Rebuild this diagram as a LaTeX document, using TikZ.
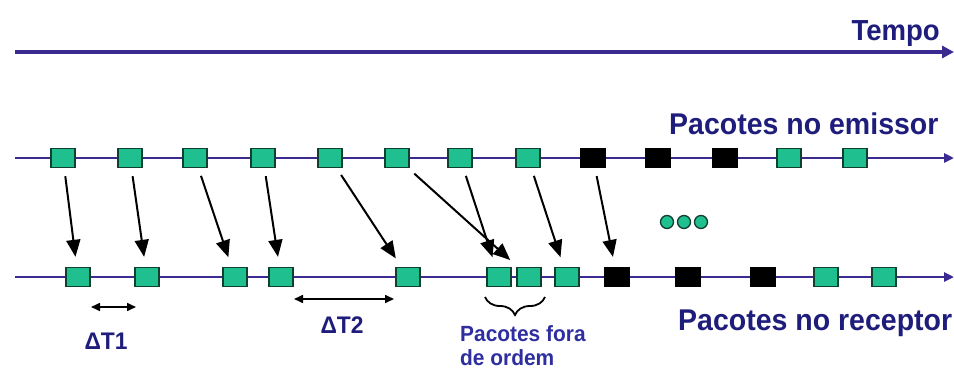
\documentclass[tikz,border=0pt]{standalone}
\usepackage{fontspec}
\setmainfont{Liberation Sans}
\newfontfamily\lblfont[FakeStretch=0.95]{Liberation Sans}
\usetikzlibrary{arrows.meta,decorations.pathreplacing}
\definecolor{nav}{HTML}{1F1D7C}
\definecolor{ln}{HTML}{3B2A8F}
\definecolor{grn}{HTML}{1FBF8F}
\definecolor{gedge}{HTML}{10402E}
\definecolor{lb}{HTML}{2E2EA0}

\begin{document}
\begin{tikzpicture}[x=1pt,y=-1pt,
   pk/.style={draw=gedge,fill=grn,line width=1.5pt,minimum width=24pt,
              minimum height=19pt,inner sep=0pt},
   pkb/.style={pk,draw=black,fill=black},
   lnk/.style={line width=2pt,-{Triangle[length=17pt,width=14pt]},
               shorten <=8pt,shorten >=10pt},
   tl/.style={draw=ln,line width=2.6pt,-{Triangle[length=10pt,width=9pt]}},
   dt/.style={line width=1.6pt,{Triangle[length=9pt,width=8pt]}-{Triangle[length=9pt,width=8pt]}},
   dot/.style={circle,draw=gedge,fill=grn,line width=1.3pt,minimum size=13pt,inner sep=0pt},
   lbl/.style={font=\lblfont\bfseries\fontsize{30}{32}\selectfont,text=nav,inner sep=0pt}]
  \useasboundingbox (0,0) rectangle (954,372);

  % time and the two packet lines
  \coordinate (t0) at (15,52);   \coordinate (t1) at (954,52);
  \coordinate (em0) at (15,158); \coordinate (em1) at (954,158);
  \coordinate (rc0) at (15,277); \coordinate (rc1) at (954,277);
  \draw[draw=ln,line width=3.8pt,-{Triangle[length=12pt,width=12pt]}] (t0)--(t1);
  \draw[tl] (em0)--(em1);
  \draw[tl] (rc0)--(rc1);
  \node[lbl,font=\lblfont\bfseries\fontsize{29}{31}\selectfont,anchor=base east] (tempo) at (940,40) {Tempo};
  \node[lbl,anchor=base west] (emis) at (669,134) {Pacotes no emissor};
  \node[lbl,anchor=base west] (recp) at (678,330) {Pacotes no receptor};

  \node[pk] (e1) at (63,158) {};
  \node[pk] (e2) at (130,158) {};
  \node[pk] (e3) at (195,158) {};
  \node[pk] (e4) at (263,158) {};
  \node[pk] (e5) at (330,158) {};
  \node[pk] (e6) at (397,158) {};
  \node[pk] (e7) at (460,158) {};
  \node[pk] (e8) at (528,158) {};
  \node[pkb] (e9) at (593,158) {};
  \node[pkb] (e10) at (658,158) {};
  \node[pkb] (e11) at (725,158) {};
  \node[pk] (e12) at (789,158) {};
  \node[pk] (e13) at (855,158) {};

  \node[pk] (r1) at (78,277) {};
  \node[pk] (r2) at (147,277) {};
  \node[pk] (r3) at (235,277) {};
  \node[pk] (r4) at (281,277) {};
  \node[pk] (r5) at (408,277) {};
  \node[pk] (r6) at (499,277) {};
  \node[pk] (r7) at (529,277) {};
  \node[pk] (r8) at (567,277) {};
  \node[pkb] (r9) at (617,277) {};
  \node[pkb] (r10) at (688,277) {};
  \node[pkb] (r11) at (763,277) {};
  \node[pk] (r12) at (826,277) {};
  \node[pk] (r13) at (884,277) {};

  \draw[lnk] (e1)--(r1);
  \draw[lnk] (e2)--(r2);
  \draw[lnk] (e3)--(r3);
  \draw[lnk] (e4)--(r4);
  \draw[lnk] (e5)--(r5);
  \draw[lnk] (e6)--(r7);
  \draw[lnk] (e7)--(r6);
  \draw[lnk] (e8)--(r8);
  \draw[lnk] (e9)--(r9);

  \node[dot] (d1) at (667,222) {};
  \node[dot] (d2) at (684,222) {};
  \node[dot] (d3) at (701,222) {};

  % intervals
  \coordinate (a1) at (91,307);  \coordinate (a2) at (136,307);
  \coordinate (b1) at (294,299); \coordinate (b2) at (394,299);
  \draw[dt] (a1)--(a2);
  \draw[dt] (b1)--(b2);
  \node[lbl,font=\lblfont\bfseries\fontsize{24}{26}\selectfont] (dt1) at (106,341) {ΔT1};
  \node[lbl,font=\lblfont\bfseries\fontsize{24}{26}\selectfont] (dt2) at (342,325) {ΔT2};

  % out of order pair
  \coordinate (c1) at (485,297); \coordinate (c2) at (545,297);
  \draw[line width=1.8pt,decorate,decoration={brace,mirror,amplitude=18pt}] (c1)--(c2);
  \node[lbl,font=\lblfont\bfseries\fontsize{22}{24}\selectfont,text=lb,align=left,
        anchor=north west] (fora) at (460,325) {Pacotes fora\\de ordem};
\end{tikzpicture}
\end{document}
